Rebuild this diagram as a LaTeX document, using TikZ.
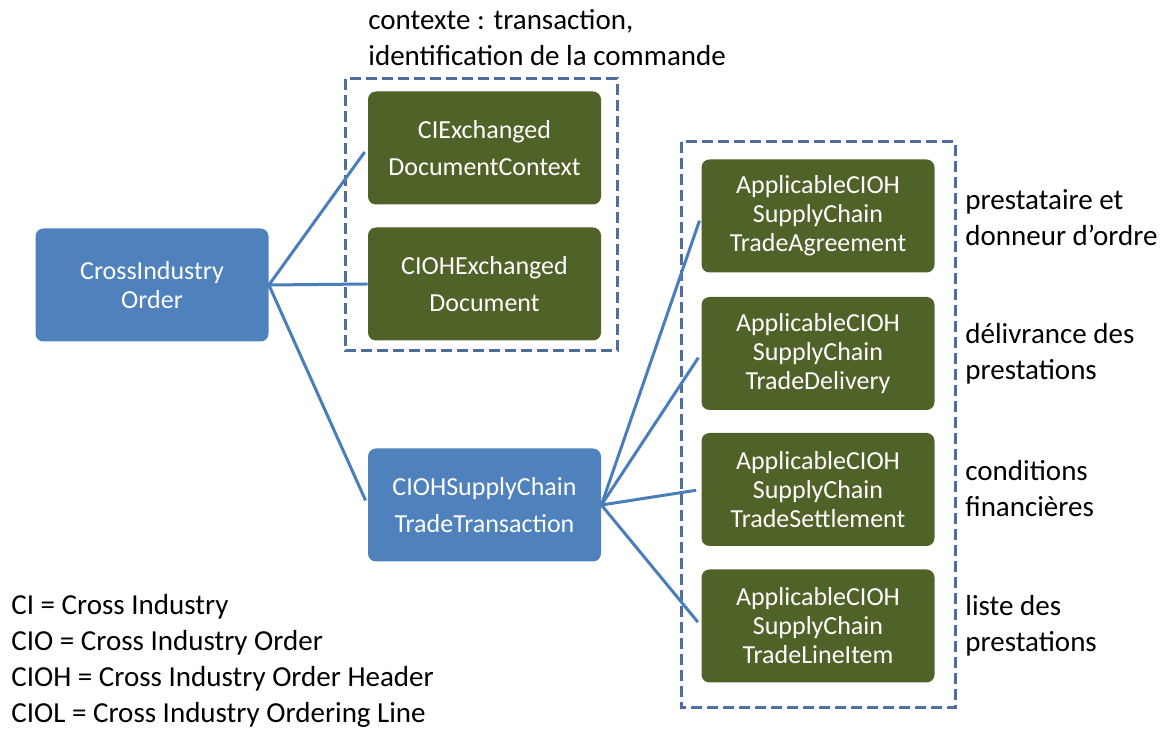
\documentclass[tikz,border=0pt]{standalone}
\usepackage{fontspec}
\setmainfont{Carlito}
\definecolor{bleu}{HTML}{4F81BD}
\definecolor{vert}{HTML}{4F6228}
\definecolor{trait}{HTML}{4A7EBB}
\definecolor{cadre}{HTML}{4F6D9E}
\newcommand{\Cadres}{
    \draw[cadre, line width=1.5pt, dash pattern=on 5.5pt off 2.5pt] (345,79) rectangle (617,351);
    \draw[cadre, line width=1.5pt, dash pattern=on 5.5pt off 2.5pt] (681,142) rectangle (955,708);
}
\begin{document}
\begin{tikzpicture}[x=0.5pt, y=-0.5pt,
    boite/.style={rectangle, rounded corners=4pt, text=white, align=center,
        minimum width=116.5pt, minimum height=56.5pt, inner sep=0pt,
        font=\fontsize{13}{14.5}\selectfont},
    bluebox/.style={boite, fill=bleu},
    greenbox/.style={boite, fill=vert},
    large/.style={font=\fontsize{13}{18.5}\selectfont},
    note/.style={anchor=west, align=left, inner sep=0pt, font=\fontsize{14.5}{18}\selectfont},
    link/.style={trait, line width=1.5pt, shorten >=2.5pt}]
        \useasboundingbox (0,0) rectangle (1168,731);
        \Cadres
        \node (cio) at (152,285) [bluebox] {CrossIndustry\\Order};
        \node (ctx) at (484.5,148) [greenbox, large] {CIExchanged\\DocumentContext};
        \node (doc) at (484.5,284) [greenbox, large] {CIOHExchanged\\Document};
        \node (trans) at (484.5,505) [bluebox, large] {CIOHSupplyChain\\TradeTransaction};
        \node (agr) at (818,216) [greenbox] {ApplicableCIOH\\SupplyChain\\TradeAgreement};
        \node (del) at (818,353.5) [greenbox] {ApplicableCIOH\\SupplyChain\\TradeDelivery};
        \node (set) at (818,489.5) [greenbox] {ApplicableCIOH\\SupplyChain\\TradeSettlement};
        \node (item) at (818,626) [greenbox] {ApplicableCIOH\\SupplyChain\\TradeLineItem};
        \draw[link] (cio.east) -- (ctx.west);
        \draw[link, shorten >=0pt] (cio.east) -- (doc.west);
        \draw[link] (cio.east) -- (trans.west);
        \draw[link] (trans.east) -- (agr.west);
        \draw[link] (trans.east) -- (del.west);
        \draw[link] (trans.east) -- (set.west);
        \draw[link] (trans.east) -- (item.west);
        \node (ctxnote) at (368,38) [note] {contexte : transaction,\\identification de la commande};
        \node (agrnote) at (965,218) [note] {prestataire et\\donneur d’ordre};
        \node (delnote) at (965,354) [note] {délivrance des\\prestations};
        \node (setnote) at (965,489) [note] {conditions\\financières};
        \node (itemnote) at (965,626) [note] {liste des\\prestations};
        \node (legende) at (11,661) [note] {CI = Cross Industry\\CIO = Cross Industry Order\\CIOH = Cross Industry Order Header\\CIOL = Cross Industry Ordering Line};
    \end{tikzpicture}
\end{document}
